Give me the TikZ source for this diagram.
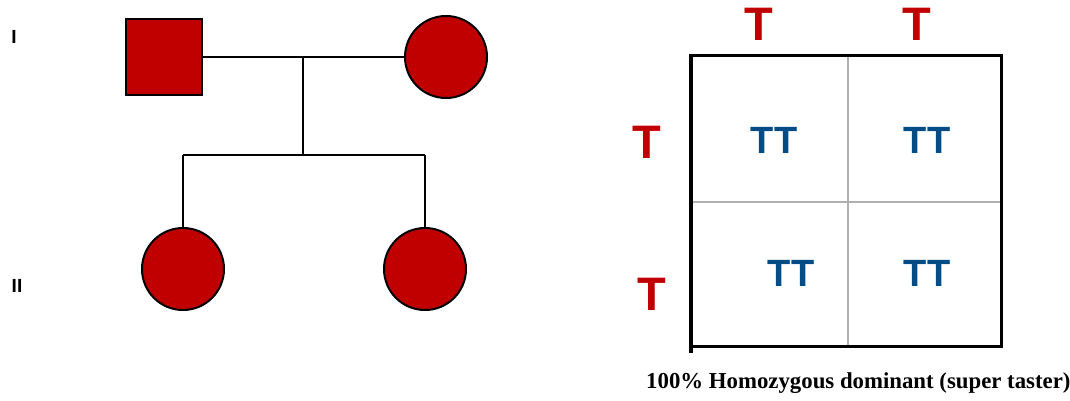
\documentclass[tikz,border=0pt]{standalone}
\usepackage{fontspec}
\setmainfont{Liberation Serif}
\newfontfamily\arialf{Liberation Sans}
\definecolor{pedred}{HTML}{C00000}
\definecolor{ttblue}{HTML}{034C86}
\definecolor{gridgray}{HTML}{B0B0B0}
\begin{document}
\begin{tikzpicture}[x=1pt,y=-1pt,
  line/.style={draw=black,line width=2pt},
  male/.style={rectangle,draw=black,line width=2pt,fill=pedred,minimum size=76pt,inner sep=0pt},
  female/.style={circle,draw=black,line width=2pt,fill=pedred,minimum size=82pt,inner sep=0pt},
  gen/.style={font=\arialf\bfseries\fontsize{19}{19}\selectfont,inner sep=0pt},
  allele/.style={text=pedred,font=\arialf\bfseries\fontsize{47}{47}\selectfont,inner sep=0pt},
  geno/.style={text=ttblue,font=\arialf\bfseries\fontsize{38}{38}\selectfont,inner sep=0pt},
  caption/.style={font=\bfseries\fontsize{22.8}{22.8}\selectfont,inner sep=0pt,anchor=base west}]
\useasboundingbox (0,0) rectangle (1070,401);
% generation labels
\node[gen] (g1) at (14,37) {I};
\node[gen] (g2) at (17,286) {II};
% pedigree
\node[male] (father) at (164,57) {};
\node[female] (mother) at (446,57) {};
\node[female] (child1) at (183,269) {};
\node[female] (child2) at (425,269) {};
\coordinate (mid) at (303,57);
\coordinate (sib) at (303,155);
\coordinate (sibL) at (183,155);
\coordinate (sibR) at (425,155);
\draw[line] (father.east) -- (mother.west);
\draw[line] (mid) -- (sib);
\draw[line] (sibL) -- (sibR);
\draw[line] (sibL) -- (child1.north);
\draw[line] (sibR) -- (child2.north);
% Punnett square
\coordinate (pTL) at (691,56);
\coordinate (pTR) at (1001,56);
\coordinate (pBR) at (1001,346);
\coordinate (pBL) at (691,346);
\coordinate (pTick) at (691,353);
\draw[gridgray,line width=1.5pt] (848,56) -- (848,346);
\draw[gridgray,line width=1.5pt] (691,202) -- (1001,202);
\draw[line width=3pt,line join=miter] (pTL) -- (pTR) -- (pBR) -- (pBL);
\draw[line width=4pt] ([yshift=1.5pt]pTL) -- (pTick);
% alleles
\node[allele] (a1) at (759,24) {T};
\node[allele] (a2) at (917,24) {T};
\node[allele] (a3) at (647,142) {T};
\node[allele] (a4) at (652,294) {T};
% genotypes
\node[geno] (c11) at (774,140) {TT};
\node[geno] (c12) at (927,140) {TT};
\node[geno] (c21) at (791,273) {TT};
\node[geno] (c22) at (927,273) {TT};
% caption
\node[caption] (cap) at (646,388) {100\% Homozygous dominant (super taster)};
\end{tikzpicture}
\end{document}
